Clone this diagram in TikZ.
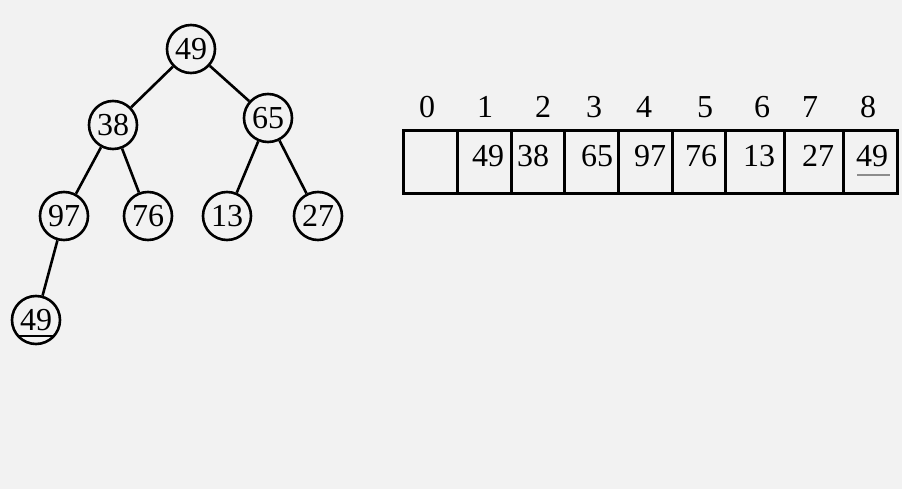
\documentclass[tikz,border=0pt]{standalone}
\usepackage{fontspec}
\setmainfont{Liberation Serif}
\begin{document}
\begin{tikzpicture}[x=1pt,y=-1pt,
  tn/.style={circle,draw=black,line width=2.6pt,minimum size=48pt,inner sep=0pt,font=\fontsize{32}{32}\selectfont},
  lbl/.style={inner sep=0pt,font=\fontsize{32}{32}\selectfont},
  edge/.style={line width=2.6pt},
  cellline/.style={line width=3pt}]
\fill[fill={rgb,255:red,242;green,242;blue,242}] (0,0) rectangle (902,489);
\useasboundingbox (0,0) rectangle (902,489);
% tree
\node[tn] (r) at (191,49) {49};
\node[tn] (a) at (113,125) {38};
\node[tn] (b) at (268,118) {65};
\node[tn] (c) at (64,216) {97};
\node[tn] (d) at (148,216) {76};
\node[tn] (e) at (227,216) {13};
\node[tn] (f) at (318,216) {27};
\node[tn] (g) at (36,320) {49};
\draw[edge] (r) -- (a);
\draw[edge] (r) -- (b);
\draw[edge] (a) -- (c);
\draw[edge] (a) -- (d);
\draw[edge] (b) -- (e);
\draw[edge] (b) -- (f);
\draw[edge] (c) -- (g);
\draw[line width=1.5pt] ([xshift=-18pt,yshift=-16pt]g.center) -- ([xshift=17pt,yshift=-16pt]g.center);
% array
\coordinate (tl) at (403,131);
\coordinate (br) at (897,194);
\draw[cellline] (tl) rectangle (br);
\foreach \xx in {457,511,564,618,672,725,784,843}
  \draw[cellline] (\xx,131) -- (\xx,194);
% indices
\node[lbl] (i0) at (427,107) {0};
\node[lbl] (i1) at (485,107) {1};
\node[lbl] (i2) at (543,107) {2};
\node[lbl] (i3) at (594,107) {3};
\node[lbl] (i4) at (644,107) {4};
\node[lbl] (i5) at (705,107) {5};
\node[lbl] (i6) at (762,107) {6};
\node[lbl] (i7) at (810,107) {7};
\node[lbl] (i8) at (868,107) {8};
% values
\node[lbl] (v1) at (488,156) {49};
\node[lbl] (v2) at (533,156) {38};
\node[lbl] (v3) at (597,156) {65};
\node[lbl] (v4) at (650,156) {97};
\node[lbl] (v5) at (701,156) {76};
\node[lbl] (v6) at (759,156) {13};
\node[lbl] (v7) at (818,156) {27};
\node[lbl] (v8) at (872,156) {49};
\draw[line width=1.2pt,draw={rgb,255:red,140;green,140;blue,140}] ([xshift=-15pt,yshift=-19pt]v8.center) -- ([xshift=18pt,yshift=-19pt]v8.center);
\end{tikzpicture}
\end{document}
